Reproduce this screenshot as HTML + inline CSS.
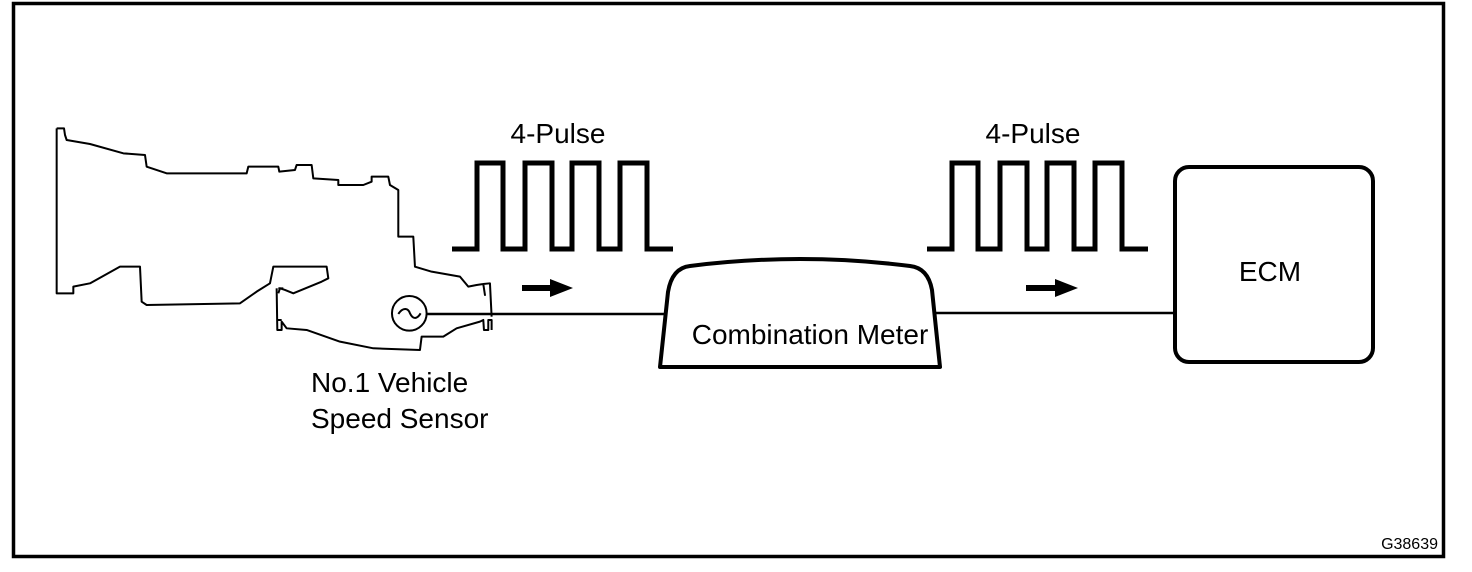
<!DOCTYPE html>
<html><head><style>
html,body{margin:0;padding:0;background:#fff;}
svg{display:block;}
text{font-family:"Liberation Sans",Arial,sans-serif;fill:#000;}
</style></head><body>
<svg width="1472" height="572" viewBox="0 0 1472 572" xmlns="http://www.w3.org/2000/svg">
<rect x="13.5" y="3.5" width="1430" height="553" fill="none" stroke="#000" stroke-width="3.5"/>

<g transform="translate(40 120) scale(0.3333)" fill="none" stroke="#000" stroke-width="6" stroke-linejoin="round">
<path d="M50,25 L72,25 L75,45 L80,60 L150,72 L250,100 L315,105 L320,140 L380,160 L620,160 L625,140 L715,140 L718,155 L765,150 L770,135 L815,135 L820,175 L895,180 L895,195 L970,195 L995,185 L995,170 L1045,170 L1050,195 L1075,210 L1075,350 L1120,350 L1125,440 L1175,455 L1260,470 L1285,500 L1310,495 L1330,492 L1335,525 L1330,492 L1350,490 L1355,590"/>
<path d="M50,25 L50,520 L100,520 L100,500 L150,490 L240,440 L300,440 L305,545 L320,555 L600,550 L650,515 L690,490 L700,440 L860,440 L865,475 L845,485 L760,520 L735,510 L720,505 L715,520"/>
<path d="M710,505 L712,630 L725,630 L725,605 L740,625 L800,630 L900,665 L1000,685 L1140,690 L1145,650 L1210,650 L1250,625 L1320,605 L1330,600 L1332,630 L1345,630 L1345,600 L1355,600 L1355,630"/>
<path d="M715,505 L730,505 M712,600 L725,600"/>
<circle cx="1108" cy="580" r="52"/>
<path d="M1075,582 C1090,560 1105,565 1110,580 C1118,597 1130,600 1142,580"/>
</g>
<line x1="426" y1="314" x2="668" y2="314" stroke="#000" stroke-width="2.5"/>
<text x="311" y="392" font-size="28">No.1 Vehicle</text>
<text x="311" y="428" font-size="28">Speed Sensor</text>

<text x="558" y="143" font-size="28" text-anchor="middle">4-Pulse</text>
<path d="M452,249 L477,249 L477,163 L503,163 L503,249 L525,249 L525,163 L552,163 L552,249 L572,249 L572,163 L599,163 L599,249 L620,249 L620,163 L647,163 L647,249 L673,249" fill="none" stroke="#000" stroke-width="5" stroke-linejoin="miter"/>
<rect x="522" y="285" width="30" height="6"/>
<polygon points="550,279 573,288 550,297"/>

<path d="M660,367 L668,292 Q672,268 690,266 Q800,252 910,266 Q928,268 932,290 L940,367 Z" fill="#fff" stroke="#000" stroke-width="4" stroke-linejoin="round"/>
<text x="810" y="344" font-size="28" text-anchor="middle">Combination Meter</text>
<line x1="934" y1="313" x2="1174" y2="313" stroke="#000" stroke-width="2.5"/>

<text x="1033" y="143" font-size="28" text-anchor="middle">4-Pulse</text>
<path d="M927,249 L952,249 L952,163 L978,163 L978,249 L1000,249 L1000,163 L1027,163 L1027,249 L1047,249 L1047,163 L1074,163 L1074,249 L1095,249 L1095,163 L1122,163 L1122,249 L1148,249" fill="none" stroke="#000" stroke-width="5"/>
<rect x="1026" y="285" width="30" height="6"/>
<polygon points="1055,279 1078,288 1055,297"/>

<rect x="1175" y="167" width="198" height="195" rx="14" fill="#fff" stroke="#000" stroke-width="4"/>
<text x="1270" y="281" font-size="28" text-anchor="middle">ECM</text>

<text x="1438" y="549" font-size="16" text-anchor="end">G38639</text>
</svg>
</body></html>
